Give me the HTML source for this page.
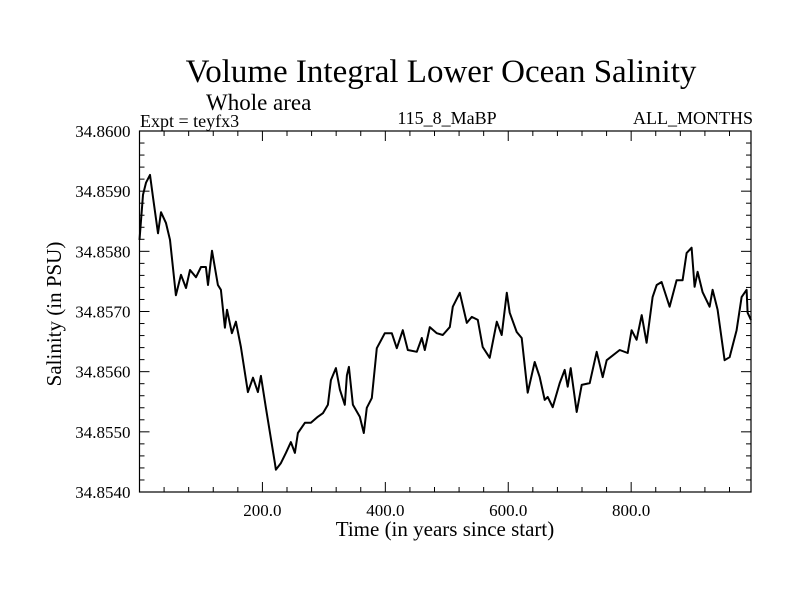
<!DOCTYPE html>
<html><head><meta charset="utf-8"><style>
html,body{margin:0;padding:0;background:#fff;}
svg text{font-family:"Liberation Serif",serif;fill:#000;}
</style></head><body>
<svg id="chart" width="800" height="600" viewBox="0 0 800 600" xmlns="http://www.w3.org/2000/svg">
<text x="441" y="82" font-size="33" text-anchor="middle">Volume Integral Lower Ocean Salinity</text>
<text x="206" y="110" font-size="23">Whole area</text>
<text x="140" y="127" font-size="18">Expt = teyfx3</text>
<text x="447" y="124" font-size="18" text-anchor="middle">115_8_MaBP</text>
<text x="753" y="124" font-size="18" text-anchor="end">ALL_MONTHS</text>
<text x="0" y="0" font-size="21" text-anchor="middle" transform="translate(61,314) rotate(-90)">Salinity (in PSU)</text>
<text x="445" y="536" font-size="21" text-anchor="middle">Time (in years since start)</text>
<g id="axes"></g>
<g id="series"></g>
</svg>
<script>
const years = [0,5.7,10.6,17.1,22,30.1,35,43.1,49.6,59.3,67.5,75.6,82.1,91.9,100,108.1,111.4,117.9,127.6,132.5,139,142.3,150.4,156.9,165,176.4,184.6,192.7,197.6,205.7,220.3,222,230.1,238.2,246.3,252.8,257.7,269.1,278.9,290.2,298.4,306.5,311.4,319.5,326,334.1,337.4,340.7,347.2,358.5,365,369.9,378,386.2,399.2,410.6,418.7,428.5,436.6,451.2,459.3,464.2,472.4,483.7,493.5,504.9,509.8,521.1,532.5,540.7,550.4,558.5,569.9,581.3,589.4,597.6,602.4,613.8,621.9,631.7,643.1,651.2,659.3,664.2,672.4,683.7,691.9,696.7,701.6,711.4,719.5,732.5,743.9,753.7,760.2,781.3,794.3,800.8,808.9,817.1,825.2,834.9,841.5,849.6,862.6,874,883.7,890.2,898.4,903.3,908.1,916.3,927.6,932.5,940.7,952,960.2,971.5,979.7,987.8,989.4,995];
const salinity = [34.85819,34.85894,34.85914,34.85927,34.8589,34.8583,34.85865,34.85847,34.85819,34.85727,34.85761,34.85739,34.85769,34.85757,34.85774,34.85774,34.85744,34.85801,34.85744,34.85736,34.85673,34.85703,34.85664,34.85683,34.85641,34.85566,34.8559,34.85566,34.85593,34.8554,34.85448,34.85437,34.85448,34.85465,34.85483,34.85465,34.85498,34.85515,34.85515,34.85525,34.85531,34.85545,34.85586,34.85606,34.8557,34.85545,34.85594,34.85608,34.85545,34.85525,34.85498,34.8554,34.85556,34.85639,34.85664,34.85664,34.85639,34.85669,34.85636,34.85633,34.85656,34.85636,34.85674,34.85664,34.85661,34.85674,34.85708,34.85731,34.85681,34.85691,34.85686,34.85641,34.85623,34.85683,34.85661,34.85731,34.85698,34.85666,34.85656,34.85565,34.85616,34.85591,34.85553,34.85558,34.85541,34.85581,34.85603,34.85575,34.85606,34.85533,34.85578,34.85581,34.85633,34.85591,34.85619,34.85636,34.85631,34.85669,34.85653,34.85694,34.85648,34.85724,34.85744,34.85749,34.85708,34.85752,34.85752,34.85797,34.85806,34.85741,34.85766,34.85732,34.85708,34.85736,34.85703,34.85619,34.85624,34.85669,34.85724,34.85736,34.85698,34.85686];
const xTickValues = [200,400,600,800];
const xTickLabels = ["200.0","400.0","600.0","800.0"];
const yTickValues = [34.854,34.855,34.856,34.857,34.858,34.859,34.860];
const yTickLabels = ["34.8540","34.8550","34.8560","34.8570","34.8580","34.8590","34.8600"];

const L=139.5,R=751,T=131,B=492,xMin=0,xMax=995,yMin=34.854,yMax=34.860;
const xs=v=>L+(v-xMin)/(xMax-xMin)*(R-L);
const ys=v=>B-(v-yMin)/(yMax-yMin)*(B-T);
const NS="http://www.w3.org/2000/svg";
const axes=document.getElementById('axes');
function mk(tag,attrs,parent){const e=document.createElementNS(NS,tag);for(const k in attrs)e.setAttribute(k,attrs[k]);parent.appendChild(e);return e;}
const frame=mk('rect',{x:L,y:T,width:R-L,height:B-T,fill:'none',stroke:'#000','stroke-width':1.2},axes);


for(let v=40;v<xMax;v+=40){
  const major=v%200===0, len=major?10:5, x=xs(v);
  const t1=mk('line',{x1:x,x2:x,y1:B,y2:B-len,stroke:'#000','stroke-width':1},axes);
  
  
  const t2=mk('line',{x1:x,x2:x,y1:T,y2:T+len,stroke:'#000','stroke-width':1},axes);
  
  
}
xTickValues.forEach((v,i)=>{
  const t=mk('text',{x:xs(v),y:B+24,'font-size':17,'text-anchor':'middle'},axes);
  t.textContent=xTickLabels[i];
  
  
});
for(let k=1;k<30;k++){
  const v=yMin+k*0.0002, major=k%5===0, len=major?10:5, y=ys(v);
  const t1=mk('line',{x1:L,x2:L+len,y1:y,y2:y,stroke:'#000','stroke-width':1},axes);
  
  
  const t2=mk('line',{x1:R,x2:R-len,y1:y,y2:y,stroke:'#000','stroke-width':1},axes);
  
  
}
yTickValues.forEach((v,i)=>{
  const t=mk('text',{x:L-9,y:ys(v)+6,'font-size':17,'text-anchor':'end'},axes);
  t.textContent=yTickLabels[i];
  
  
});
const d=years.map((yr,i)=>(i?'L':'M')+xs(yr).toFixed(1)+','+ys(salinity[i]).toFixed(1)).join(' ');
const line=mk('path',{d:d,fill:'none',stroke:'#000','stroke-width':2,'stroke-linejoin':'round'},document.getElementById('series'));


</script>
</body></html>
